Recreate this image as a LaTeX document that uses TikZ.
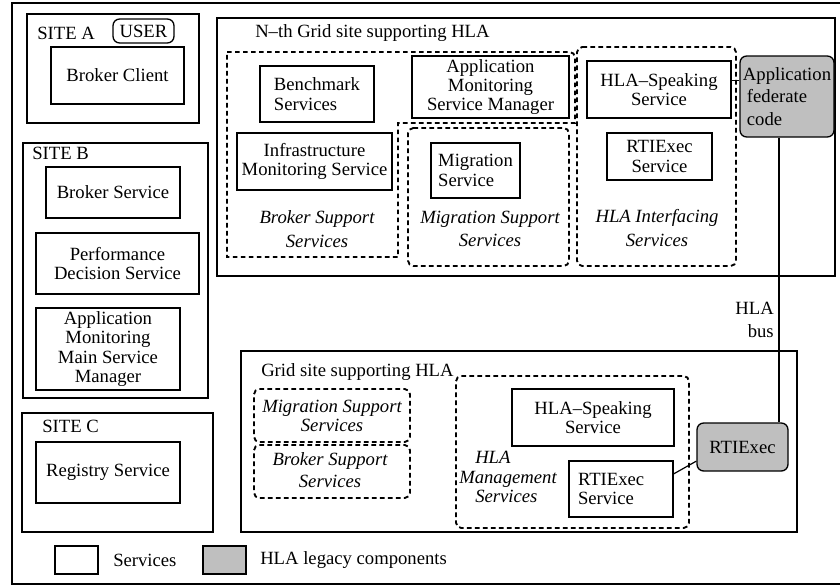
\documentclass[tikz,border=0pt]{standalone}
\usepackage{fontspec}
\setmainfont{Liberation Serif}

\begin{document}
\begin{tikzpicture}[x=0.75pt,y=0.75pt,yscale=-1,xscale=1,
    font=\fontsize{14}{14.5}\selectfont,
    svc/.style={draw, line width=1pt, inner sep=0pt, align=center},
    sz/.style 2 args={minimum width=#1*0.75pt, minimum height=#2*0.75pt},
    legacy/.style={svc, fill=black!25, rounded corners=5pt},
    grp/.style={draw, line width=1.4pt, dash pattern=on 3.5pt off 2.5pt},
    sitebox/.style={draw, line width=1pt},
    grplbl/.style={font=\fontsize{14}{14.5}\selectfont\itshape, align=center, inner sep=0pt}]
  %set diagram to the size of the reference
  \useasboundingbox (0,0) rectangle (840,586);

  %Shape: Outer frame
  \draw [line width=1.6pt] (12,3) rectangle (850,584);

  %Shape: SITE A
  \draw [sitebox] (27,14) rectangle (199,123);
  % Text Node
  \node [anchor=base west, inner sep=0pt] (siteA) at (37,39) {SITE A};
  \node [svc, sz={61}{24}, rounded corners=5pt] (user) at (143.5,31) {USER};
  \node [svc, sz={133}{57}] (bclient) at (117.5,75.5) {Broker Client};

  %Shape: SITE B
  \draw [sitebox] (23,143) rectangle (208,398);
  % Text Node
  \node [anchor=base west, inner sep=0pt] (siteB) at (32,159) {SITE B};
  \node [svc, sz={134}{51}] (bservice) at (113,192.5) {Broker Service};
  \node [svc, sz={163}{61}] (perfdec) at (117.5,263.5) {Performance\\Decision Service};
  \node [svc, sz={144}{82}] (appmain) at (108,349) {Application\\Monitoring\\Main Service\\Manager};

  %Shape: SITE C
  \draw [sitebox] (22,413) rectangle (213,532);
  % Text Node
  \node [anchor=base west, inner sep=0pt] (siteC) at (42,432) {SITE C};
  \node [svc, sz={144}{61}] (registry) at (108,472.5) {Registry Service};

  %Shape: N-th Grid site
  \draw [sitebox] (217,18) rectangle (835,276);
  % Text Node
  \node [anchor=base west, inner sep=0pt] (nthsite) at (255,37) {N--th Grid site supporting HLA};
  %Shape: Broker support group
  \draw [grp] (227,52) [rounded corners=4pt]-- (575,52) [sharp corners]-- (575,123) -- (398,123) -- (398,257) -- (227,257) -- cycle;
  \node [svc, sz={114}{56}, align=left] (bench) at (317,94) {Benchmark\\Services};
  \node [svc, sz={157}{62}] (appmgr) at (490.5,87) {Application\\Monitoring\\Service Manager};
  \node [svc, sz={155}{57}] (infra) at (314.5,161.5) {Infrastructure\\Monitoring Service};
  \node [grplbl] (bsslbl) at (317,229) {Broker Support\\[3pt]Services};
  %Shape: Migration support group
  \draw [grp, rounded corners=4pt] (408,128) -- (569,128) -- (569,266) -- (408,266) -- cycle;
  \node [svc, sz={89}{55}, align=left] (migr) at (475.5,170.5) {Migration\\Service};
  \node [grplbl] (msslbl) at (490,229) {Migration Support\\[3pt]Services};
  %Shape: HLA interfacing group
  \draw [grp, rounded corners=4pt] (577,47) -- (736,47) -- (736,266) -- (577,266) -- cycle;
  \node [svc, sz={144}{57}] (hspeakA) at (659,89.5) {HLA--Speaking\\Service};
  \node [svc, sz={105}{47}] (rtisvcA) at (659.5,156.5) {RTIExec\\Service};
  \node [grplbl] (hislbl) at (657,228) {HLA Interfacing\\[3pt]Services};
  %Shape: Application federate code
  \node [legacy, sz={94}{81}, align=left] (appfed) at (787,96.5) {Application\\[2.5pt]\hspace*{3pt}federate\\[2.5pt]\hspace*{3pt}code};

  %Shape: Grid site
  \draw [sitebox] (241,351) rectangle (797,532);
  % Text Node
  \node [anchor=base west, inner sep=0pt] (gridsite) at (261,376) {Grid site supporting HLA};
  \draw [grp, rounded corners=4pt] (254,389) -- (410,389) -- (410,442) -- (254,442) -- cycle;
  \node [grplbl] (msslblB) at (332,416) {Migration Support\\Services};
  \draw [grp, rounded corners=4pt] (254,445) -- (410,445) -- (410,498) -- (254,498) -- cycle;
  \node [grplbl] (bsslblB) at (330,470) {Broker Support\\[1.5pt]Services};
  %Shape: HLA management group
  \draw [grp, rounded corners=4pt] (456,376) -- (689,376) -- (689,528) -- (456,528) -- cycle;
  \node [svc, sz={162}{57}] (hspeakB) at (593,417.5) {HLA--Speaking\\Service};
  \node [svc, sz={104}{56}, text width=86*0.75pt, align=left] (rtisvcB) at (621,489) {RTIExec\\Service};
  \node [grplbl, align=left, anchor=west] (hmslbl) at (459,477) {\hspace*{12pt}HLA\\Management\\\hspace*{12pt}Services};
  %Shape: RTIExec
  \node [legacy, sz={91}{48}] (rtiexec) at (742.5,447) {RTIExec};

  %Straight Lines: HLA bus
  \coordinate (busx) at (779,0);
  \draw [line width=0.9pt] (hspeakA.7.5) -- (hspeakA.7.5 -| appfed.west);
  \draw [line width=0.9pt] (appfed.south -| busx) -- (rtiexec.north -| busx);
  \draw [line width=0.9pt] (rtisvcB.16) -- (rtiexec.197);
  % Text Node
  \node [anchor=east, align=right, inner sep=0pt] (buslbl) at (774,320) {HLA\\[2.5pt]bus};

  %Legend
  \node [svc, sz={43}{28}] (legsvc) at (76.5,560) {};
  \node [anchor=west, inner sep=0pt] (legsvclbl) at (113,560) {Services};
  \node [svc, sz={43}{28}, fill=black!25] (leglegacy) at (224.5,560) {};
  \node [anchor=west, inner sep=0pt] (leglegacylbl) at (260,560) {HLA legacy components};

\end{tikzpicture}
\end{document}
